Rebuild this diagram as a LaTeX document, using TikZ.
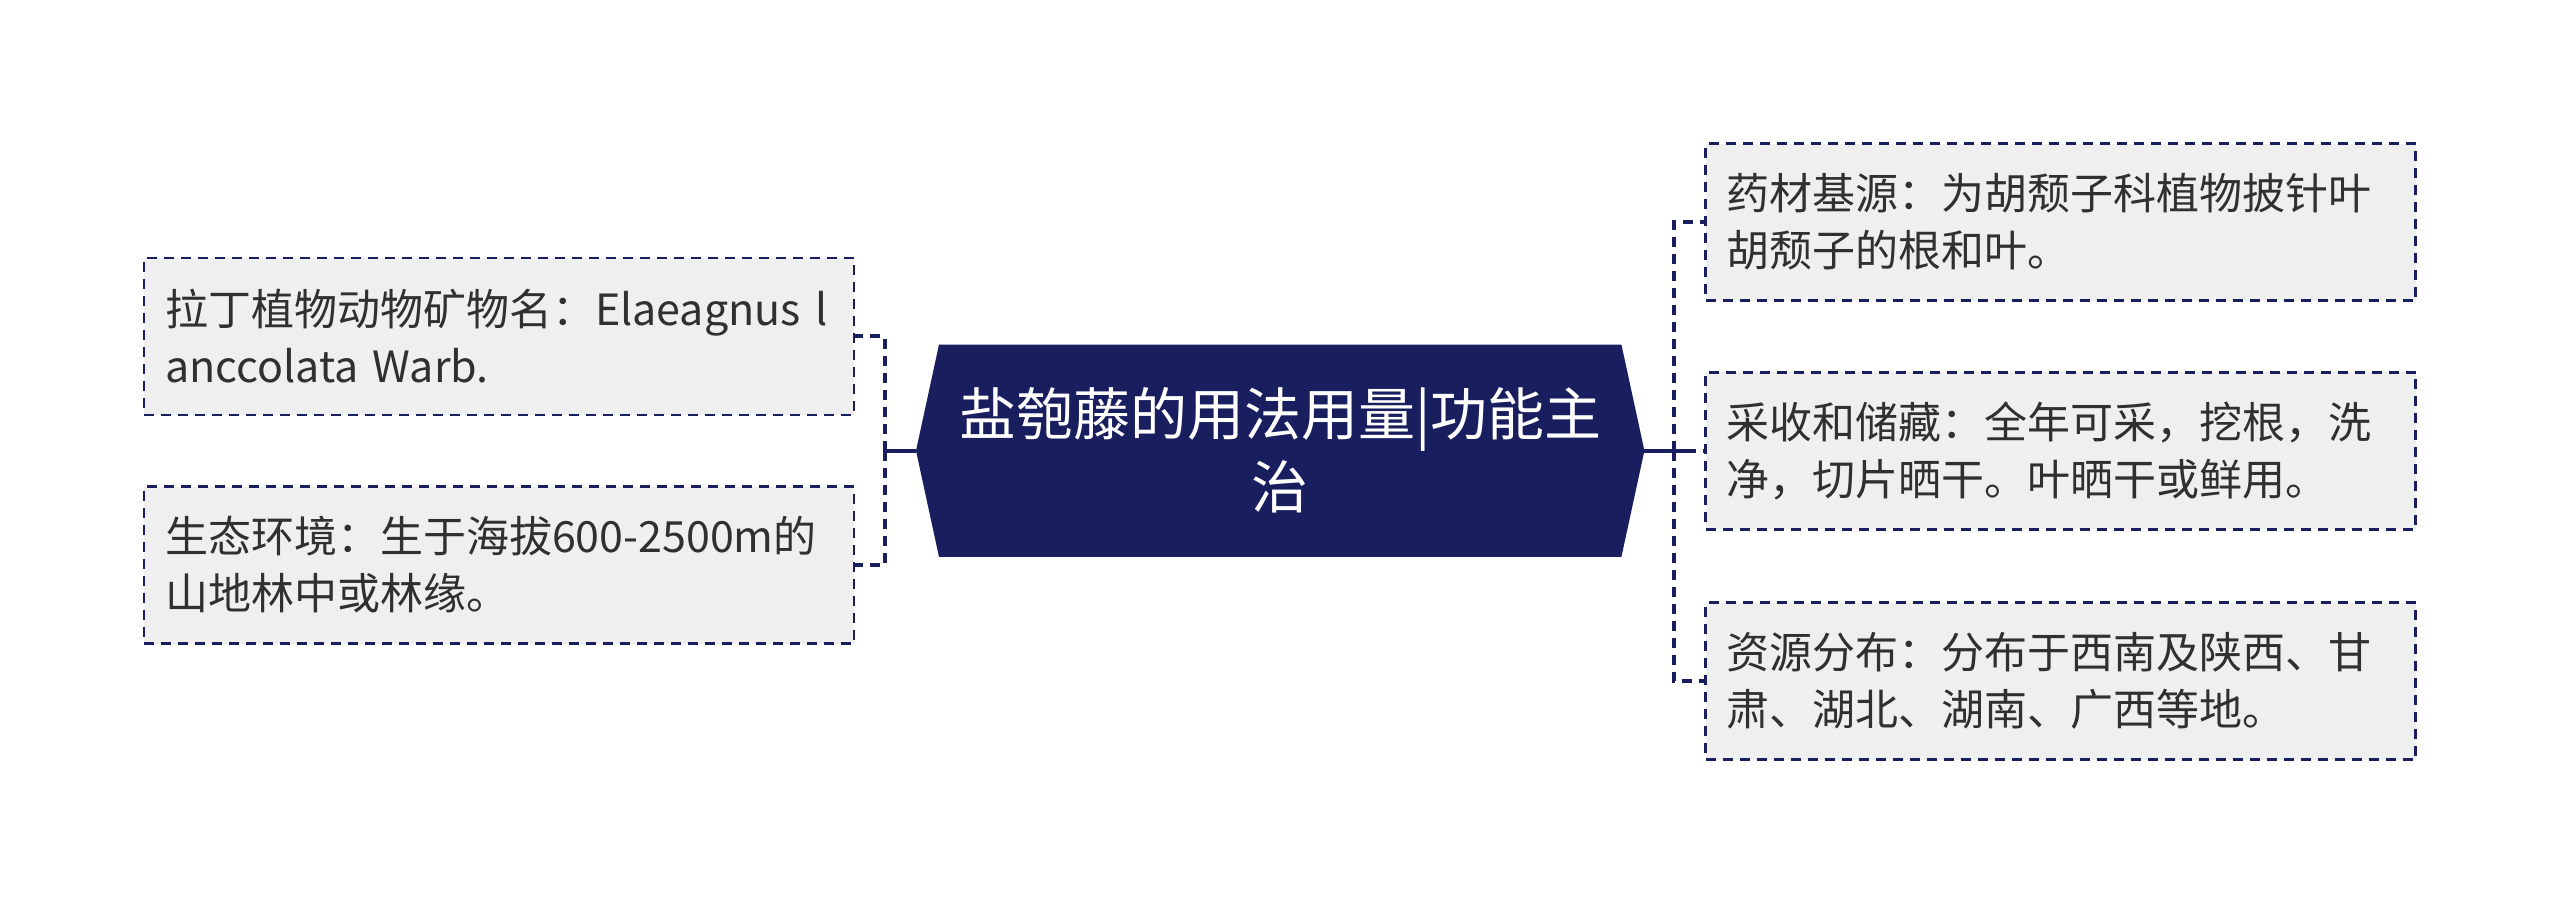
\documentclass[tikz,border=0pt]{standalone}
\usepackage{fontspec}
\setmainfont{Noto Sans CJK SC}
\usetikzlibrary{calc}
\definecolor{navy}{RGB}{24,30,94}
\definecolor{boxfill}{RGB}{239,239,239}
\definecolor{txt}{RGB}{48,48,48}
\pgfdeclarelayer{bg}
\pgfsetlayers{bg,main}
\begin{document}
\begin{tikzpicture}[x=1pt,y=-1pt,
  leaf/.style={draw=navy, line width=2.8pt, dash pattern=on 10pt off 7pt,
    fill=boxfill, text=txt, font=\fontsize{43}{57}\selectfont, align=left,
    text width=668pt, inner xsep=21pt, inner ysep=0pt, minimum height=157pt},
  core/.style={text=white, font=\fontsize{57}{73}\selectfont, align=center,
    minimum width=682pt, minimum height=212pt, inner sep=0pt},
  conn/.style={draw=navy, line width=4pt},
  dconn/.style={draw=navy, line width=4pt, dash pattern=on 10pt off 7pt}
]
\useasboundingbox (0,0) rectangle (2560,903);

\node[core] (c) at (1280.2,450.7) {盐匏藤的用法用量|功能主\\治};
\coordinate (cl) at ($(c.west)+(-23,0)$);
\coordinate (cr) at ($(c.east)+(23,0)$);
\begin{pgfonlayer}{bg}
\fill[white] (0,0) rectangle (2560,903);
\fill[navy] (c.north west) -- (c.north east) -- (cr) -- (c.south east)
  -- (c.south west) -- (cl) -- cycle;
\end{pgfonlayer}

\node[leaf] (l1) at (499,336.4) {拉丁植物动物矿物名：Elaeagnus l\\anccolata Warb.};
\node[leaf] (l2) at (499,565) {生态环境：生于海拔600-2500m的\\山地林中或林缘。};
\node[leaf] (r1) at (2060.7,222) {药材基源：为胡颓子科植物披针叶\\胡颓子的根和叶。};
\node[leaf] (r2) at (2060.7,450.7) {采收和储藏：全年可采，挖根，洗\\净，切片晒干。叶晒干或鲜用。};
\node[leaf] (r3) at (2060.7,681) {资源分布：分布于西南及陕西、甘\\肃、湖北、湖南、广西等地。};

\coordinate (lb) at (885,450.7);
\coordinate (rb) at (1673.8,450.7);
\coordinate (rx) at (1686,450.7);

\draw[conn] (cl) -- (lb);
\draw[dconn] (lb) |- (l1.east);
\draw[dconn] (lb) |- (l2.east);
\draw[conn] (cr) -- (rx);
\draw[dconn] (rb) |- (r1.west);
\draw[dconn] (rx) -- (r2.west);
\draw[dconn] (rb) |- (r3.west);
\end{tikzpicture}
\end{document}
